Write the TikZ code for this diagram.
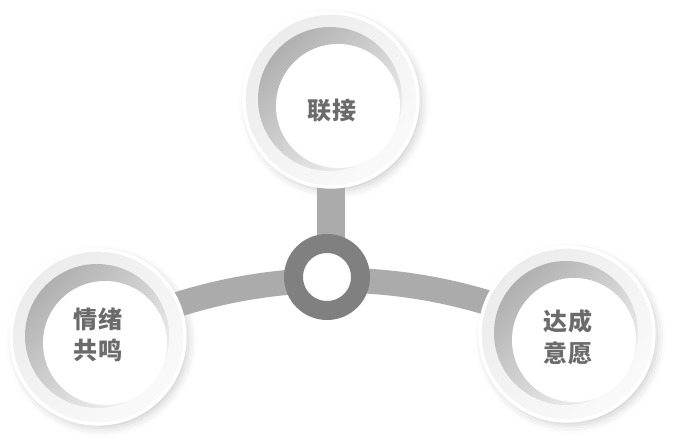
\documentclass[tikz,border=0pt]{standalone}
\usepackage{fontspec}
\newfontfamily\cjk{Noto Sans CJK SC}
\usetikzlibrary{shadows.blur}

\begin{document}
\begin{tikzpicture}[x=0.3mm,y=0.3mm,
  halo/.style={blur shadow={shadow xshift=1mm,shadow yshift=-1.2mm,shadow blur radius=2.5mm,shadow opacity=20}},
  disc/.style={top color=gray!15,bottom color=gray!4,shading angle=45,draw=white,line width=1mm},
  crescent/.style={top color=gray!62,bottom color=gray!10,shading angle=45},
  lbl/.style={font=\cjk\bfseries\fontsize{20.5}{27}\selectfont,text=black!58,align=center},
  arm/.style={draw=gray!66,line width=7.5mm}]
\useasboundingbox (0,0) rectangle (682,445);
\coordinate (top) at (331,345);
\coordinate (left) at (98,108);
\coordinate (right) at (567,111);
\coordinate (hub) at (327,168);
% shadows
\path[halo] (top) circle (87);
\path[halo] (left) circle (87);
\path[halo] (right) circle (87);
% arms
\draw[arm] (left) to[bend left=26.5,looseness=0.9] (right);
\draw[arm,line width=8.4mm] (top) -- (top |- hub);
\node[circle,draw=gray,fill=white,line width=5.7mm,minimum size=20.1mm,inner sep=0pt] (ring) at (hub) {};
% bubbles
\path[disc] (top) circle (87);
\path[crescent] (top) ++(-1,1) circle (72);
\fill[white] (top) ++(7,-6) circle (62);
\path[disc] (left) circle (87);
\path[crescent] (left) ++(-1,1) circle (72);
\fill[white] (left) ++(7,-6) circle (62);
\path[disc] (right) circle (87);
\path[crescent] (right) ++(-1,1) circle (72);
\fill[white] (right) ++(7,-6) circle (62);
% labels
\node[lbl] (tlink) at (332,334) {联接};
\node[lbl] (tmood) at (98,110) {情绪\\共鸣};
\node[lbl] (tdeal) at (568,108) {达成\\意愿};
\end{tikzpicture}
\end{document}
